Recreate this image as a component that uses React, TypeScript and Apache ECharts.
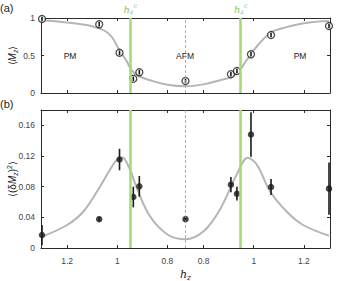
import React, { useEffect, useRef } from "react";
import * as echarts from "echarts";

// Mirrored h_z axis: left half runs from 1.3 down to the centre, right half back up.
const H0 = 0.728;
const HALF = 0.576;
const HC = 0.95;

// Measured points (side: -1 = left branch, +1 = right branch)
const pointSide = [-1, -1, -1, -1, -1, 1, 1, 1, 1, 1, 1];
const pointHz = [1.3, 1.072, 0.991, 0.936, 0.912, 0.728, 0.909, 0.933, 0.989, 1.069, 1.3];
const mzValues = [0.987, 0.916, 0.537, 0.19, 0.276, 0.16, 0.25, 0.293, 0.516, 0.773, 0.893];
const mzErrors = [0.03, 0.03, 0.03, 0.03, 0.03, 0.03, 0.03, 0.03, 0.03, 0.03, 0.03];
const flucValues = [0.017, 0.0376, 0.1154, 0.0665, 0.0804, 0.0376, 0.0826, 0.0708, 0.148, 0.0796, 0.0774];
const flucErrors = [0.013, 0.003, 0.014, 0.0135, 0.0135, 0.004, 0.01, 0.009, 0.029, 0.0105, 0.034];

// Theory curves
const topCurveSide = [-1, -1, -1, -1, -1, -1, -1, -1, -1, -1, -1, 1, 1, 1, 1, 1, 1, 1, 1, 1, 1, 1, 1];
const topCurveHz = [1.3, 1.2, 1.1, 1.05, 1.02, 0.99, 0.965, 0.94, 0.91, 0.87, 0.8, 0.728, 0.8, 0.865, 0.91, 0.932, 0.95, 0.972, 1.012, 1.065, 1.1, 1.2, 1.3];
const topCurveM = [0.97, 0.94, 0.89, 0.83, 0.74, 0.56, 0.44, 0.29, 0.22, 0.17, 0.11, 0.09, 0.115, 0.17, 0.21, 0.26, 0.33, 0.44, 0.62, 0.8, 0.85, 0.93, 0.96];

const botCurveSide = [-1, -1, -1, -1, -1, -1, -1, -1, -1, -1, -1, 1, 1, 1, 1, 1, 1, 1, 1, 1, 1];
const botCurveHz = [1.3, 1.2, 1.135, 1.069, 1.029, 1.002, 0.98, 0.949, 0.922, 0.869, 0.797, 0.728, 0.799, 0.865, 0.932, 0.976, 1.012, 1.065, 1.131, 1.197, 1.3];
const botCurveV = [0.0148, 0.03, 0.0476, 0.08, 0.102, 0.115, 0.118, 0.102, 0.078, 0.041, 0.017, 0.0114, 0.0214, 0.05, 0.0957, 0.1176, 0.109, 0.074, 0.0476, 0.03, 0.016];

const tickHz = [1.2, 1.0, 0.8];

const toU = (side: number, hz: number) => side * (hz - H0);
const tickU = [...tickHz.map((h) => toU(-1, h)), ...tickHz.slice().reverse().map((h) => toU(1, h))];

const AXIS_COLOR = "#2b2b2b";
const LABEL_COLOR = "#444";
const GREEN = "#a5d978";
const GREEN_TEXT = "#8cc45a";
const CURVE = "#b5b5b5";
const FONT = "Liberation Sans, Arial, sans-serif";

function xAxisDef(grid: number, position: "top" | "bottom", showLabels: boolean, name?: string) {
  return {
    type: "value",
    gridIndex: grid,
    position,
    min: -HALF,
    max: HALF,
    name: name ?? "",
    nameLocation: "middle",
    nameGap: 19,
    nameMoveOverlap: false,
    nameTextStyle: {
      lineHeight: 14,
      rich: {
        h: { fontFamily: "DejaVu Serif", fontStyle: "italic", fontSize: 11, color: "#222", lineHeight: 14 },
        s: { fontFamily: "DejaVu Serif", fontStyle: "italic", fontSize: 7.5, color: "#222", lineHeight: 14, verticalAlign: "bottom" },
      },
    },
    axisLine: { show: true, onZero: false, lineStyle: { color: AXIS_COLOR, width: 1 } },
    axisTick: { show: true, inside: true, length: 3, customValues: tickU, lineStyle: { color: AXIS_COLOR } },
    axisLabel: {
      show: showLabels,
      customValues: tickU,
      fontSize: 8.5,
      fontFamily: FONT,
      color: LABEL_COLOR,
      margin: 8,
      formatter: (v: number) => String(Number((Math.abs(v) + H0).toFixed(1))),
    },
    splitLine: { show: false },
  };
}

function yAxisDef(grid: number, position: "left" | "right", showLabels: boolean, min: number, max: number, interval: number, name: string | undefined, nameGap: number, fmt?: (v: number) => string) {
  return {
    type: "value",
    gridIndex: grid,
    position,
    min,
    max,
    interval,
    name: name ?? "",
    nameLocation: "middle",
    nameRotate: 90,
    nameGap,
    nameMoveOverlap: false,
    nameTextStyle: {
      fontFamily: FONT,
      fontSize: 10,
      color: "#222",
      lineHeight: 13,
      rich: {
        n: { fontFamily: FONT, fontSize: 10, color: "#222", lineHeight: 13 },
        i: { fontFamily: FONT, fontStyle: "italic", fontSize: 10, color: "#222", lineHeight: 13 },
        s: { fontFamily: FONT, fontStyle: "italic", fontSize: 7, color: "#222", lineHeight: 13, verticalAlign: "bottom" },
        p: { fontFamily: FONT, fontSize: 7, color: "#222", lineHeight: 13, verticalAlign: "top" },
      },
    },
    axisLine: { show: true, onZero: false, lineStyle: { color: AXIS_COLOR, width: 1 } },
    axisTick: { show: true, inside: true, length: 3, lineStyle: { color: AXIS_COLOR } },
    axisLabel: {
      show: showLabels,
      showMaxLabel: max === 1,
      fontSize: 8.5,
      fontFamily: FONT,
      color: LABEL_COLOR,
      margin: 6,
      formatter: fmt,
    },
    splitLine: { show: false },
  };
}

function errorBarRender(params: any, api: any) {
  const x = api.value(0);
  const y = api.value(1);
  const e = api.value(2);
  const p1 = api.coord([x, y + e]);
  const p2 = api.coord([x, y - e]);
  return {
    type: "line",
    shape: { x1: p1[0], y1: p1[1], x2: p2[0], y2: p2[1] },
    style: { stroke: "#1a1a1a", lineWidth: 1.6 },
  };
}

const hcLabel = {
  show: true,
  position: "end",
  distance: 2,
  formatter: "{h|h}{s|z}{c|c}",
  rich: {
    h: { fontFamily: "DejaVu Serif", fontStyle: "italic", fontSize: 10, color: GREEN_TEXT },
    s: { fontFamily: "DejaVu Serif", fontStyle: "italic", fontSize: 6.5, color: GREEN_TEXT, padding: [5, 0, 0, 0] },
    c: { fontFamily: "DejaVu Serif", fontStyle: "italic", fontSize: 6.5, color: GREEN_TEXT, padding: [0, 0, 7, 0] },
  },
};

export default function App() {
  const ref = useRef<HTMLDivElement>(null);

  useEffect(() => {
    if (!ref.current) return;
    const chart = echarts.init(ref.current, null, { renderer: "svg" });

    const pointsU = pointHz.map((h, i) => toU(pointSide[i], h));
    const topPts = pointsU.map((u, i) => [u, mzValues[i]]);
    const topErr = pointsU.map((u, i) => [u, mzValues[i], mzErrors[i]]);
    const botPts = pointsU.map((u, i) => [u, flucValues[i]]);
    const botErr = pointsU.map((u, i) => [u, flucValues[i], flucErrors[i]]);
    const topCurve = topCurveHz.map((h, i) => [toU(topCurveSide[i], h), topCurveM[i]]);
    const botCurve = botCurveHz.map((h, i) => [toU(botCurveSide[i], h), botCurveV[i]]);

    const vLines = (withLabel: boolean) => ({
      symbol: "none",
      silent: true,
      animation: false,
      data: [
        {
          xAxis: toU(-1, HC),
          lineStyle: { color: GREEN, width: 2.5, type: "solid" },
          label: withLabel ? hcLabel : { show: false },
        },
        {
          xAxis: toU(1, HC),
          lineStyle: { color: GREEN, width: 2.5, type: "solid" },
          label: withLabel ? hcLabel : { show: false },
        },
        {
          xAxis: 0,
          lineStyle: { color: "#9a9a9a", width: 0.8, type: [3, 2] },
          label: { show: false },
        },
      ],
    });

    const option: any = {
      animation: false,
      grid: [
        { left: 41, right: 8, top: 18, height: 75, containLabel: false, outerBoundsMode: "none" },
        { left: 41, right: 8, top: 110, height: 138, containLabel: false, outerBoundsMode: "none" },
      ],
      xAxis: [
        xAxisDef(0, "bottom", false),
        xAxisDef(0, "top", false),
        xAxisDef(1, "bottom", true, "{h|h}{s|z}"),
        xAxisDef(1, "top", false),
      ],
      yAxis: [
        yAxisDef(0, "left", true, 0, 1, 0.5, "{n|⟨}{i|M}{s|z}{n|⟩}", 22, (v: number) => String(v)),
        yAxisDef(0, "right", false, 0, 1, 0.5, undefined, 0),
        yAxisDef(1, "left", true, 0, 0.18, 0.04, "{n|⟨(δ}{i|M}{s|z}{n|)}{p|2}{n|⟩}", 22, (v: number) => (v === 0 ? "0" : v.toFixed(2))),
        yAxisDef(1, "right", false, 0, 0.18, 0.04, undefined, 0),
      ],
      graphic: [
        { type: "text", left: 0, top: 2, style: { text: "(a)", fontSize: 11, fontFamily: FONT, fill: "#222" } },
        { type: "text", left: 0, top: 98, style: { text: "(b)", fontSize: 11, fontFamily: FONT, fill: "#222" } },
        { type: "text", x: 70, y: 56, style: { text: "PM", fontSize: 8.5, fontFamily: FONT, fill: "#222", align: "center", verticalAlign: "middle" } },
        { type: "text", x: 185, y: 56, style: { text: "AFM", fontSize: 8.5, fontFamily: FONT, fill: "#222", align: "center", verticalAlign: "middle", backgroundColor: "#fff" } },
        { type: "text", x: 300, y: 56, style: { text: "PM", fontSize: 8.5, fontFamily: FONT, fill: "#222", align: "center", verticalAlign: "middle" } },
      ],
      series: [
        {
          type: "line",
          xAxisIndex: 0,
          yAxisIndex: 0,
          data: topCurve,
          smooth: 0.4,
          showSymbol: false,
          lineStyle: { color: CURVE, width: 2 },
          markLine: vLines(true),
          z: 1,
        },
        {
          type: "scatter",
          xAxisIndex: 0,
          yAxisIndex: 0,
          data: topPts,
          symbol: "circle",
          symbolSize: 7,
          itemStyle: { color: "#fff", borderColor: "#1a1a1a", borderWidth: 1.3 },
          clip: false,
          z: 3,
        },
        {
          type: "custom",
          xAxisIndex: 0,
          yAxisIndex: 0,
          data: topErr,
          renderItem: errorBarRender,
          clip: false,
          z: 4,
        },
        {
          type: "line",
          xAxisIndex: 2,
          yAxisIndex: 2,
          data: botCurve,
          smooth: 0.35,
          showSymbol: false,
          lineStyle: { color: CURVE, width: 2 },
          markLine: vLines(false),
          z: 1,
        },
        {
          type: "custom",
          xAxisIndex: 2,
          yAxisIndex: 2,
          data: botErr,
          renderItem: errorBarRender,
          clip: false,
          z: 3,
        },
        {
          type: "scatter",
          xAxisIndex: 2,
          yAxisIndex: 2,
          data: botPts,
          symbol: "circle",
          symbolSize: 6.5,
          itemStyle: { color: "#1a1a1a" },
          clip: false,
          z: 4,
        },
      ],
    };

    chart.setOption(option);
    return () => chart.dispose();
  }, []);

  return <div ref={ref} style={{ width: 338, height: 281, position: "absolute", left: 0, top: 0 }} />;
}
